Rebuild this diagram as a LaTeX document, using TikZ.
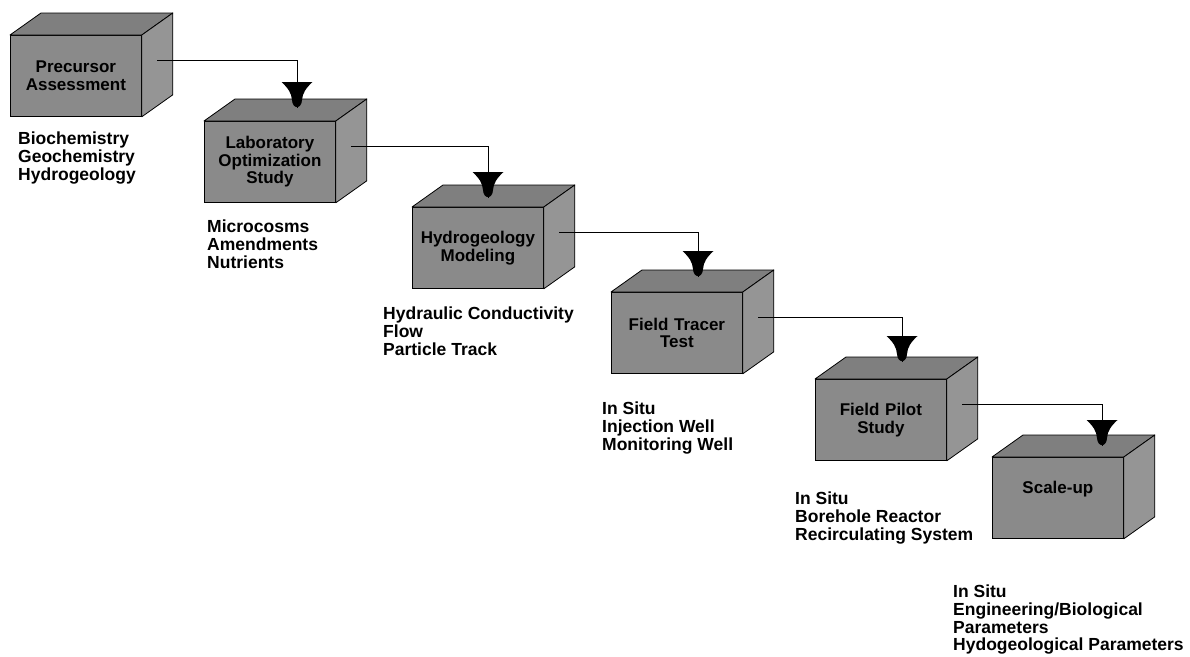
\documentclass[tikz,border=0pt]{standalone}
\usepackage{fontspec}
\setmainfont{Liberation Sans}
\usetikzlibrary{calc,positioning}

\definecolor{frontgray}{HTML}{8A8A8A}
\definecolor{sidegray}{HTML}{959595}
\definecolor{topgray}{HTML}{7F7F7F}

\tikzset{
	cube/.style={draw, fill=frontgray, line width=0.8pt, minimum width=131pt,
		minimum height=81pt, anchor=north west, inner sep=2pt, align=center,
		text width=125pt, font=\bfseries\fontsize{17}{17.5}\selectfont},
	facetop/.style={draw, fill=topgray, line width=0.8pt, line join=round},
	faceside/.style={draw, fill=sidegray, line width=0.8pt, line join=round},
	notes/.style={anchor=north west, inner sep=0pt, align=left,
		font=\bfseries\fontsize{17.5}{17.6}\selectfont},
	link/.style={line width=0.8pt},
	funnel/.pic={\fill (-15.5pt,26pt) .. controls (-9pt,20pt) and (-5.5pt,15pt) .. (-5pt,8pt)
		.. controls (-4.5pt,-1.5pt) and (4.5pt,-1.5pt) .. (5pt,8pt)
		.. controls (5.5pt,15pt) and (9pt,20pt) .. (15.5pt,26pt) -- cycle;}
}

\begin{document}
\begin{tikzpicture}[x=1pt,y=-1pt]

	\useasboundingbox (0,0) rectangle (1190,656);

	% front faces
	\node[cube] (b1) at (10,35) {Precursor\\Assessment};
	\node[cube] (b2) at (204,121) {Laboratory\\Optimization\\Study};
	\node[cube] (b3) at (412,207) {Hydrogeology\\Modeling};
	\node[cube] (b4) at (611,292) {Field Tracer\\Test};
	\node[cube] (b5) at (815,379) {Field Pilot\\Study};
	\node[cube, text depth=22pt] (b6) at (992,457) {Scale-up};

	% top and side faces
	\foreach \b in {b1,b2,b3,b4,b5,b6} {
		\draw[facetop] (\b.north west) -- ++(31pt,22pt) -- ($(\b.north east)+(31pt,22pt)$)
			-- (\b.north east) -- cycle;
		\draw[faceside] (\b.north east) -- ++(31pt,22pt) -- ($(\b.south east)+(31pt,22pt)$)
			-- (\b.south east) -- cycle;
	}

	% notes under the boxes
	\node[notes] (n1) at (18,132) {Biochemistry\\Geochemistry\\Hydrogeology};
	\node[notes] (n2) at (207,220) {Microcosms\\Amendments\\Nutrients};
	\node[notes] (n3) at (383,307) {Hydraulic Conductivity\\Flow\\Particle Track};
	\node[notes] (n4) at (602,402) {In Situ\\Injection Well\\Monitoring Well};
	\node[notes] (n5) at (795,492) {In Situ\\Borehole Reactor\\Recirculating System};
	\node[notes] (n6) at (953,585) {In Situ\\Engineering/Biological\\Parameters\\Hydogeological Parameters};

	% connectors
	\foreach \i in {1,...,5}
		\coordinate (s\i) at ($(b\i.east)+(15.5pt,16pt)$);
	\coordinate (t2) at (297,108);
	\coordinate (t3) at (488,198);
	\coordinate (t4) at (698,277);
	\coordinate (t5) at (902,362);
	\coordinate (t6) at (1102,446);

	\draw[link] (s1) -| (t2) pic {funnel};
	\draw[link] (s2) -| (t3) pic {funnel};
	\draw[link] (s3) -| (t4) pic {funnel};
	\draw[link] (s4) -| (t5) pic {funnel};
	\draw[link] (s5) -| (t6) pic {funnel};

\end{tikzpicture}
\end{document}
